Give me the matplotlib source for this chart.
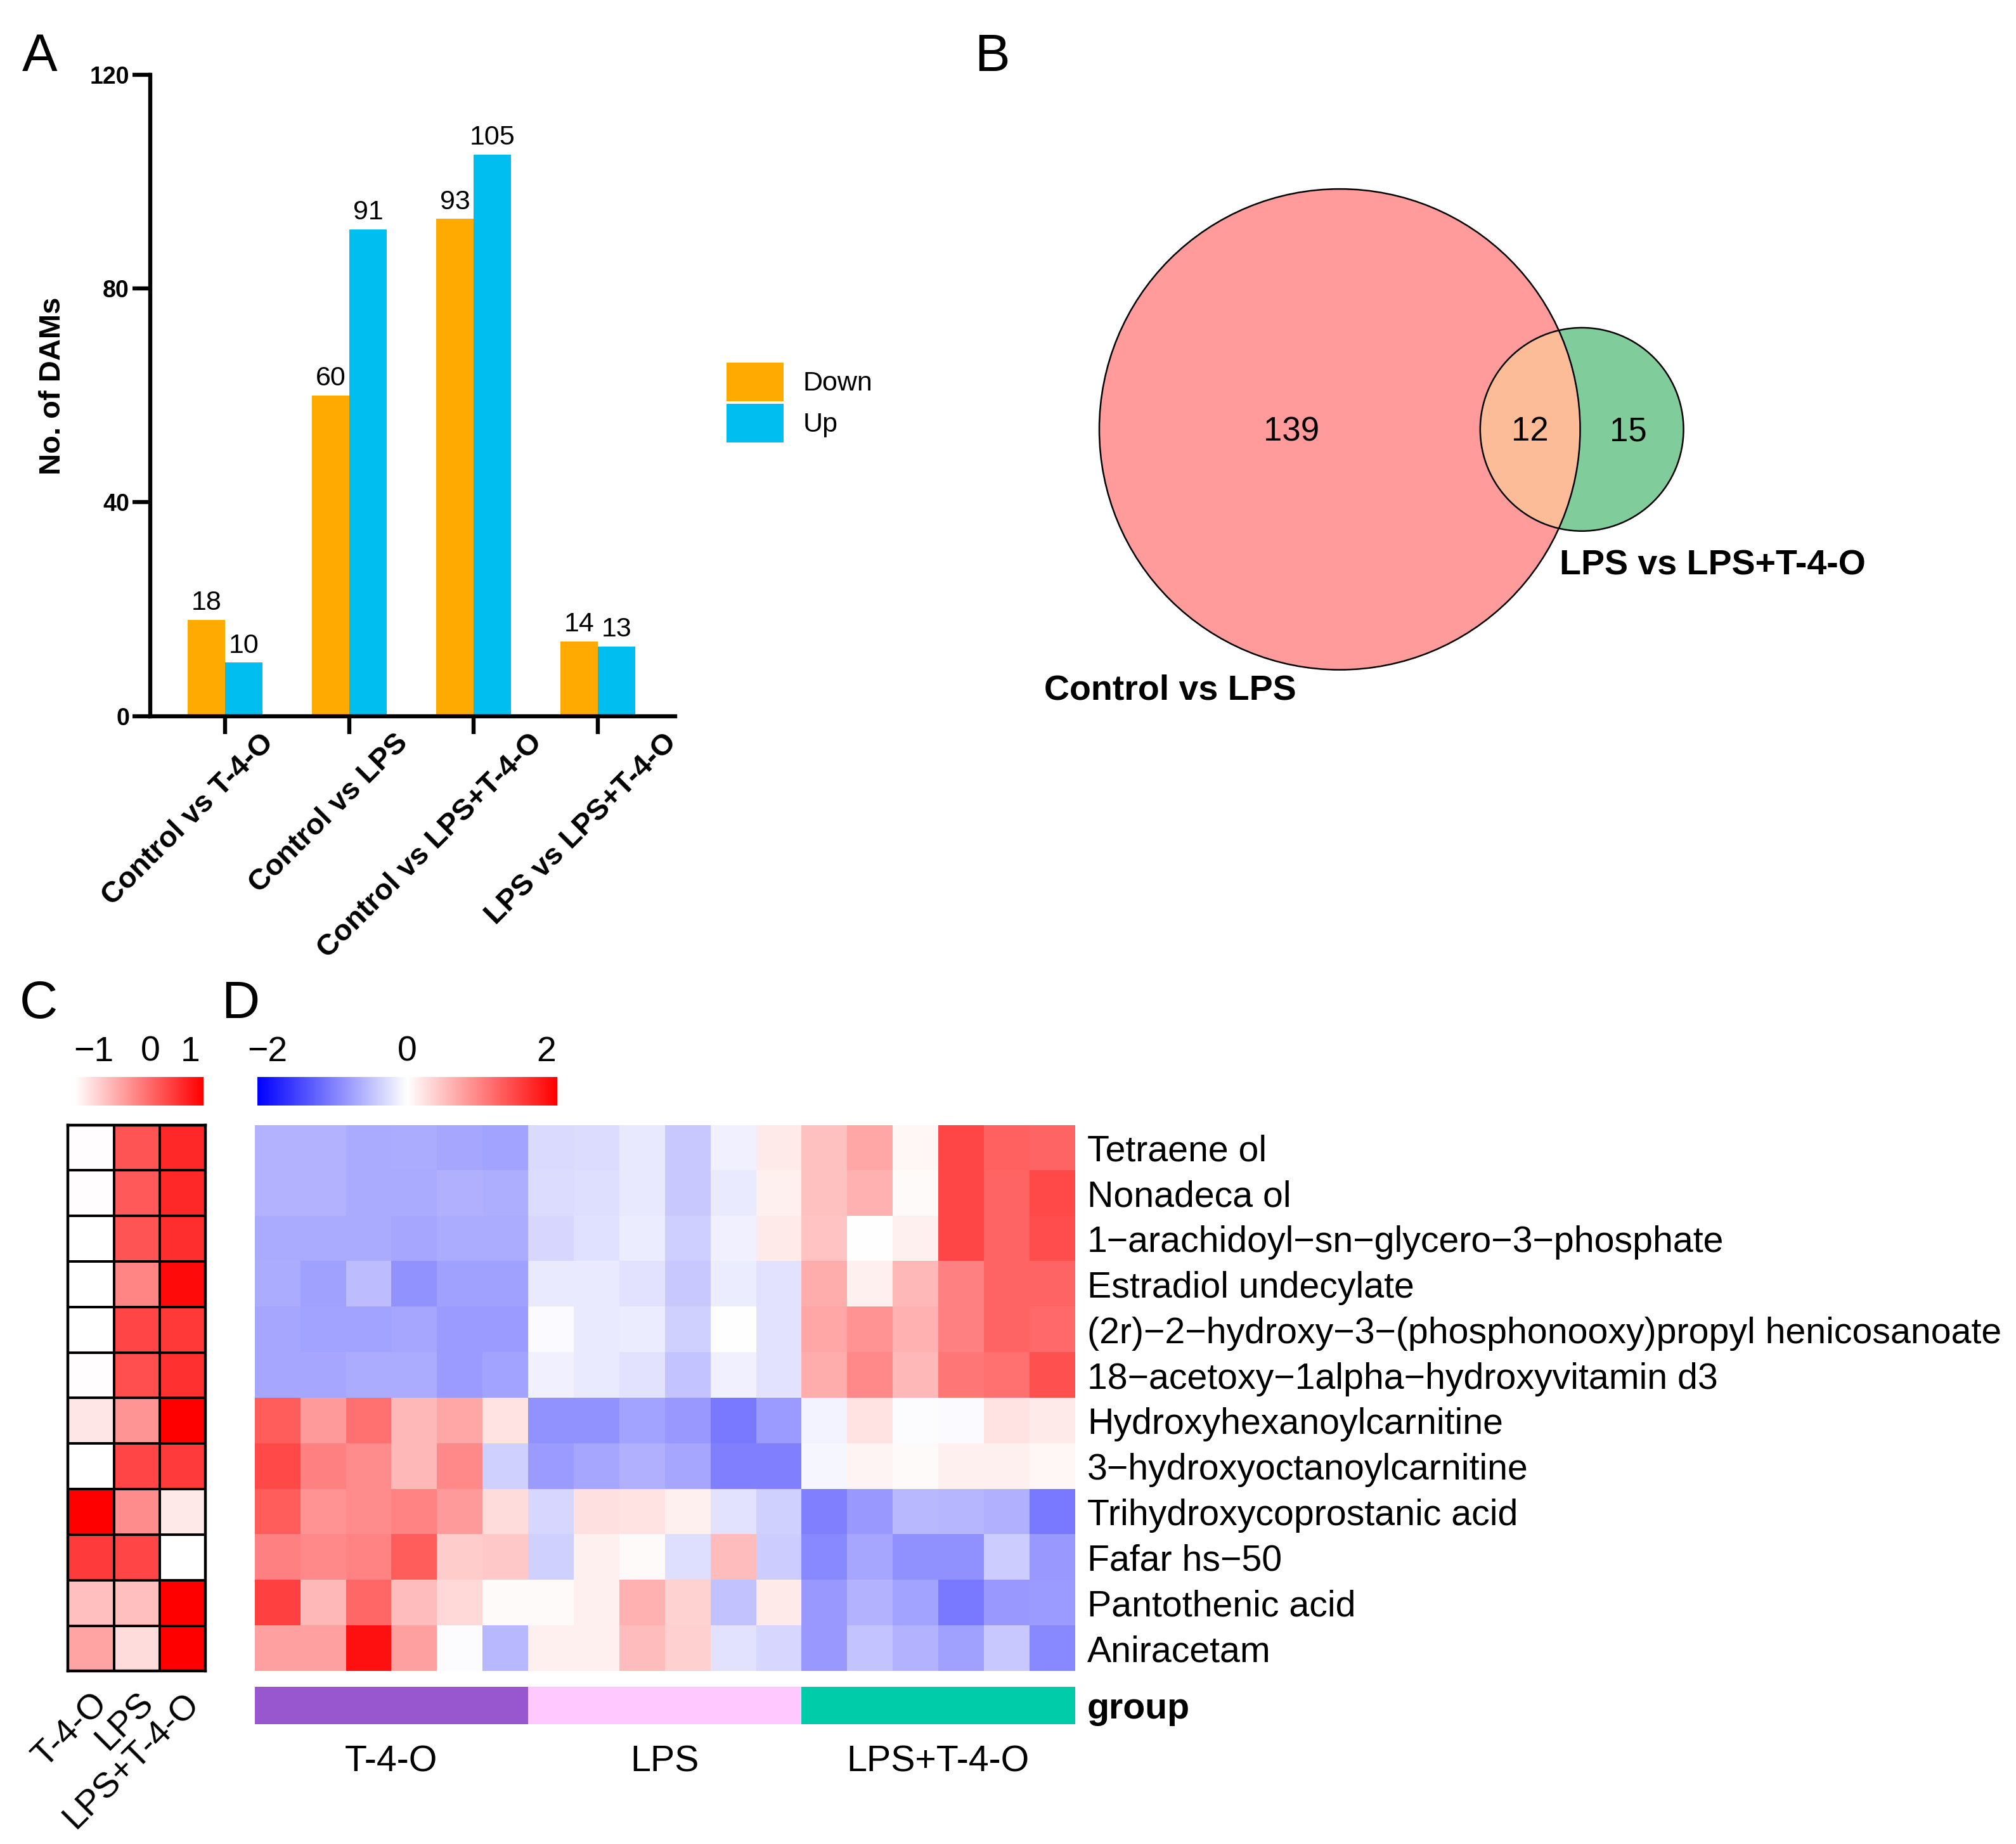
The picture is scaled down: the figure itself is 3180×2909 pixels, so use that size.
import numpy as np
import matplotlib
matplotlib.use('Agg')
import matplotlib.pyplot as plt
from matplotlib.colors import LinearSegmentedColormap, ListedColormap
from matplotlib.patches import Circle
from matplotlib.transforms import ScaledTranslation

plt.rcParams['font.family'] = ['Liberation Sans', 'DejaVu Sans']

# ---------------- Panel A data ----------------
comparisons = ['Control vs T-4-O', 'Control vs LPS', 'Control vs LPS+T-4-O', 'LPS vs LPS+T-4-O']
down_counts = [18, 60, 93, 14]
up_counts = [10, 91, 105, 13]
a_yticks = [0, 40, 80, 120]

# ---------------- Panel B data ----------------
venn_names = ['Control vs LPS', 'LPS vs LPS+T-4-O']
only_ctrl_lps = 139
shared = 12
only_lps_t4o = 15

# ---------------- Panel C data (white->red intensity) ----------------
c_groups = ['T-4-O', 'LPS', 'LPS+T-4-O']
c_tick_labels = ['\u22121', '0', '1']
c_values = [
    [0.01, 0.67, 0.84],
    [0.01, 0.65, 0.84],
    [0.00, 0.67, 0.82],
    [0.00, 0.48, 0.96],
    [0.00, 0.73, 0.78],
    [0.01, 0.69, 0.81],
    [0.10, 0.42, 1.00],
    [0.00, 0.73, 0.77],
    [1.00, 0.45, 0.09],
    [0.77, 0.73, 0.00],
    [0.25, 0.25, 1.00],
    [0.36, 0.14, 1.00],
]

# ---------------- Panel D data ----------------
metabolites = ['Tetraene ol', 'Nonadeca ol',
               '1\u2212arachidoyl\u2212sn\u2212glycero\u22123\u2212phosphate',
               'Estradiol undecylate',
               '(2r)\u22122\u2212hydroxy\u22123\u2212(phosphonooxy)propyl henicosanoate',
               '18\u2212acetoxy\u22121alpha\u2212hydroxyvitamin d3',
               'Hydroxyhexanoylcarnitine', '3\u2212hydroxyoctanoylcarnitine',
               'Trihydroxycoprostanic acid', 'Fafar hs\u221250',
               'Pantothenic acid', 'Aniracetam']
d_groups = ['T-4-O', 'LPS', 'LPS+T-4-O']
d_tick_values = [-2, 0, 2]
d_t4o = [
    [-0.65, -0.65, -0.72, -0.70, -0.74, -0.78],
    [-0.65, -0.65, -0.72, -0.72, -0.66, -0.68],
    [-0.71, -0.71, -0.72, -0.74, -0.69, -0.70],
    [-0.70, -0.80, -0.56, -0.92, -0.79, -0.79],
    [-0.74, -0.78, -0.78, -0.75, -0.84, -0.84],
    [-0.74, -0.74, -0.70, -0.70, -0.84, -0.78],
    [1.37, 0.84, 1.20, 0.59, 0.75, 0.24],
    [1.53, 1.06, 0.96, 0.59, 1.00, -0.40],
    [1.37, 0.90, 0.96, 1.03, 0.84, 0.29],
    [1.06, 1.00, 1.03, 1.37, 0.43, 0.46],
    [1.60, 0.59, 1.28, 0.56, 0.33, 0.04],
    [0.79, 0.79, 2.00, 0.79, -0.03, -0.59],
]
d_lps = [
    [-0.31, -0.29, -0.20, -0.46, -0.13, 0.18],
    [-0.30, -0.27, -0.20, -0.46, -0.18, 0.13],
    [-0.34, -0.26, -0.16, -0.41, -0.13, 0.18],
    [-0.18, -0.18, -0.24, -0.46, -0.16, -0.24],
    [-0.05, -0.17, -0.16, -0.40, 0.00, -0.24],
    [-0.13, -0.18, -0.24, -0.50, -0.12, -0.24],
    [-0.92, -0.92, -0.78, -0.87, -1.12, -0.84],
    [-0.84, -0.75, -0.67, -0.75, -1.06, -1.06],
    [-0.34, 0.26, 0.24, 0.13, -0.24, -0.40],
    [-0.40, 0.12, 0.05, -0.27, 0.56, -0.43],
    [0.05, 0.12, 0.67, 0.38, -0.52, 0.18],
    [0.12, 0.12, 0.56, 0.40, -0.24, -0.34],
]
d_lps_t4o = [
    [0.53, 0.75, 0.08, 1.56, 1.33, 1.30],
    [0.53, 0.67, 0.05, 1.56, 1.30, 1.53],
    [0.50, 0.00, 0.12, 1.56, 1.30, 1.50],
    [0.70, 0.13, 0.59, 1.06, 1.30, 1.30],
    [0.75, 0.92, 0.67, 1.06, 1.30, 1.25],
    [0.70, 1.00, 0.59, 1.15, 1.20, 1.47],
    [-0.10, 0.24, -0.03, -0.05, 0.24, 0.18],
    [-0.08, 0.10, 0.04, 0.12, 0.12, 0.08],
    [-1.06, -0.87, -0.59, -0.62, -0.67, -1.12],
    [-1.00, -0.75, -0.93, -0.93, -0.43, -0.87],
    [-0.87, -0.65, -0.78, -1.12, -0.87, -0.84],
    [-0.87, -0.50, -0.65, -0.80, -0.46, -1.00],
]

# ---------------- layout helpers ----------------
W, H = 1568.0, 1434.4
fig = plt.figure(figsize=(15.9, 14.545), dpi=200)
PX_IN = 15.9 / W  # inches per reference display pixel


def box(x0, y0, x1, y1):
    return [x0 / W, 1 - y1 / H, (x1 - x0) / W, (y1 - y0) / H]


def fpos(x, y):
    return x / W, 1 - y / H


# panel letters
for letter, (lx, ly) in zip('ABCD', [(17, 55), (758, 55), (15, 792), (172, 792)]):
    fig.text(*fpos(lx, ly), letter, fontsize=30, ha='left', va='baseline')

# ---------------- Panel A ----------------
axA = fig.add_axes(box(117, 58, 525, 557))
x = np.arange(len(comparisons))
bw = 0.3
orange, cyan = '#FFAA00', '#00BEF0'
axA.bar(x - bw / 2, down_counts, bw, color=orange, label='Down')
axA.bar(x + bw / 2, up_counts, bw, color=cyan, label='Up')
for xi, v in zip(x, down_counts):
    axA.text(xi - bw / 2, v + 0.8, str(v), ha='center', va='bottom', fontsize=15.5)
for xi, v in zip(x, up_counts):
    axA.text(xi + bw / 2, v + 0.8, str(v), ha='center', va='bottom', fontsize=15.5)
axA.set_xlim(-0.6, 3.62)
axA.set_ylim(0, 120)
for s in ['top', 'right']:
    axA.spines[s].set_visible(False)
for s in ['left', 'bottom']:
    axA.spines[s].set_linewidth(2.3)
axA.tick_params(direction='out', length=10, width=2.3)
axA.tick_params(axis='y', pad=2)
axA.tick_params(axis='x', pad=0)
axA.set_yticks(a_yticks)
axA.set_yticklabels([str(t) for t in a_yticks], fontsize=13.5, fontweight='bold')
axA.set_xticks(x)
xlabels = axA.set_xticklabels(comparisons, rotation=45, ha='right', va='top',
                              rotation_mode='anchor', fontsize=16.8, fontweight='bold')
for i, lab in enumerate(xlabels):
    lab.set_transform(lab.get_transform() +
                      ScaledTranslation((27 + 7.7 * i) * PX_IN, 4 * PX_IN, fig.dpi_scale_trans))
axA.set_ylabel('No. of DAMs', fontsize=17, fontweight='bold')
axA.yaxis.set_label_coords(-0.16, 0.515)
axA.legend(loc='upper left', bbox_to_anchor=fpos(565, 282), bbox_transform=fig.transFigure,
           frameon=False, fontsize=15.5, handlelength=2.1, handleheight=1.8,
           labelspacing=0.1, handletextpad=0.7, borderpad=0, borderaxespad=0)

# ---------------- Panel B (Venn) ----------------
axB = fig.add_axes(box(770, 60, 1568, 580))
axB.set_xlim(770, 1568)
axB.set_ylim(580, 60)
axB.axis('off')
size_a = only_ctrl_lps + shared
size_b = only_lps_t4o + shared
k = 187.0 / np.sqrt(size_a)
ra, rb = k * np.sqrt(size_a), k * np.sqrt(size_b)


def lens_area(d, r1, r2):
    a1 = r1 ** 2 * np.arccos((d ** 2 + r1 ** 2 - r2 ** 2) / (2 * d * r1))
    a2 = r2 ** 2 * np.arccos((d ** 2 + r2 ** 2 - r1 ** 2) / (2 * d * r2))
    a3 = 0.5 * np.sqrt((-d + r1 + r2) * (d + r1 - r2) * (d - r1 + r2) * (d + r1 + r2))
    return a1 + a2 - a3


target = np.pi * k ** 2 * shared
lo, hi = ra - rb + 1e-6, ra + rb - 1e-6
for _ in range(100):
    mid = 0.5 * (lo + hi)
    if lens_area(mid, ra, rb) > target:
        lo = mid
    else:
        hi = mid
dist = 0.5 * (lo + hi)
cxa, cy = 1042.0, 334.0
cxb = cxa + dist
axB.add_patch(Circle((cxa, cy), ra, facecolor='#FF9B9B', edgecolor='none', zorder=1))
axB.add_patch(Circle((cxb, cy), rb, facecolor='#80CD9B', edgecolor='none', zorder=2))
cab = Circle((cxb, cy), rb, facecolor='#FDBC98', edgecolor='none', zorder=3)
axB.add_patch(cab)
cab.set_clip_path(Circle((cxa, cy), ra, transform=axB.transData))
for cx, r in [(cxa, ra), (cxb, rb)]:
    axB.add_patch(Circle((cx, cy), r, facecolor='none', edgecolor='black', lw=0.9, zorder=4))
axB.text(cxa - 0.2 * ra, cy + 2, str(only_ctrl_lps), ha='center', va='center', fontsize=19, zorder=5)
axB.text(((cxb - rb) + (cxa + ra)) / 2, cy + 2, str(shared), ha='center', va='center', fontsize=19, zorder=5)
axB.text(((cxa + ra) + (cxb + rb)) / 2 - 3, cy + 2, str(only_lps_t4o), ha='center', va='center', fontsize=19, zorder=5)
axB.text(812, 537, venn_names[0], ha='left', va='center', fontsize=20, fontweight='bold')
axB.text(1213, 440, venn_names[1], ha='left', va='center', fontsize=20, fontweight='bold')

# ---------------- Panel C ----------------
cmap_c = LinearSegmentedColormap.from_list('wr', ['#FFFFFF', '#FF0000'])
axCb = fig.add_axes(box(58, 838, 158, 860))
axCb.imshow(np.linspace(0, 1, 256)[None, :], cmap=cmap_c, aspect='auto', extent=(0, 1, 0, 1))
axCb.set_xticks([0.15, 0.59, 0.90])
axCb.set_xticklabels(c_tick_labels, fontsize=20)
axCb.set_yticks([])
axCb.tick_params(top=True, labeltop=True, bottom=False, labelbottom=False, length=0, pad=5)
for s in axCb.spines.values():
    s.set_visible(False)

axC = fig.add_axes(box(53, 875, 160, 1300))
cv = np.array(c_values)
axC.pcolormesh(cv, cmap=cmap_c, vmin=0, vmax=1, edgecolors='black', linewidth=1.3)
axC.set_xlim(0, cv.shape[1])
axC.set_ylim(cv.shape[0], 0)
axC.set_xticks([])
axC.set_yticks([])
for s in axC.spines.values():
    s.set_linewidth(1.6)
for j, g in enumerate(c_groups):
    axC.text(j + 0.5, cv.shape[0] + 0.34, g, rotation=45, rotation_mode='anchor',
             ha='right', va='top', fontsize=20, clip_on=False)

# ---------------- Panel D ----------------
cmap_d = LinearSegmentedColormap.from_list('bwr2', ['#0000FF', '#FFFFFF', '#FF0000'])
vlim = 2.15
axDb = fig.add_axes(box(200, 838, 433, 860))
axDb.imshow(np.linspace(-vlim, vlim, 256)[None, :], cmap=cmap_d, aspect='auto',
            extent=(-vlim, vlim, 0, 1))
axDb.set_xticks(d_tick_values)
axDb.set_xticklabels(['\u22122', '0', '2'], fontsize=20)
axDb.set_yticks([])
axDb.tick_params(top=True, labeltop=True, bottom=False, labelbottom=False, length=0, pad=5)
for s in axDb.spines.values():
    s.set_visible(False)

dmat = np.hstack([np.array(d_t4o), np.array(d_lps), np.array(d_lps_t4o)])
axD = fig.add_axes(box(198, 875, 836, 1300))
axD.imshow(dmat, cmap=cmap_d, vmin=-vlim, vmax=vlim, aspect='auto', interpolation='nearest')
axD.set_xticks([])
axD.set_yticks(range(len(metabolites)))
axD.set_yticklabels(metabolites, fontsize=20.6)
axD.tick_params(left=False, labelleft=False, right=True, labelright=True, length=0, pad=7)
for s in axD.spines.values():
    s.set_visible(False)

n_per = len(d_t4o[0])
group_idx = np.repeat(np.arange(len(d_groups)), n_per)[None, :]
axG = fig.add_axes(box(198, 1312, 836, 1341))
axG.imshow(group_idx, cmap=ListedColormap(['#9856CF', '#FFC8FF', '#00CCAA']),
           aspect='auto', interpolation='nearest', vmin=-0.5, vmax=2.5)
axG.set_xticks([n_per * i + (n_per - 1) / 2 for i in range(len(d_groups))])
axG.set_xticklabels(d_groups, fontsize=20.6)
axG.set_yticks([0])
axG.set_yticklabels(['group'], fontsize=20.6, fontweight='bold')
axG.tick_params(left=False, labelleft=False, right=True, labelright=True, bottom=False,
                length=0, pad=7)
axG.tick_params(axis='x', pad=12)
for s in axG.spines.values():
    s.set_visible(False)

fig.savefig('out.png', dpi=200)
